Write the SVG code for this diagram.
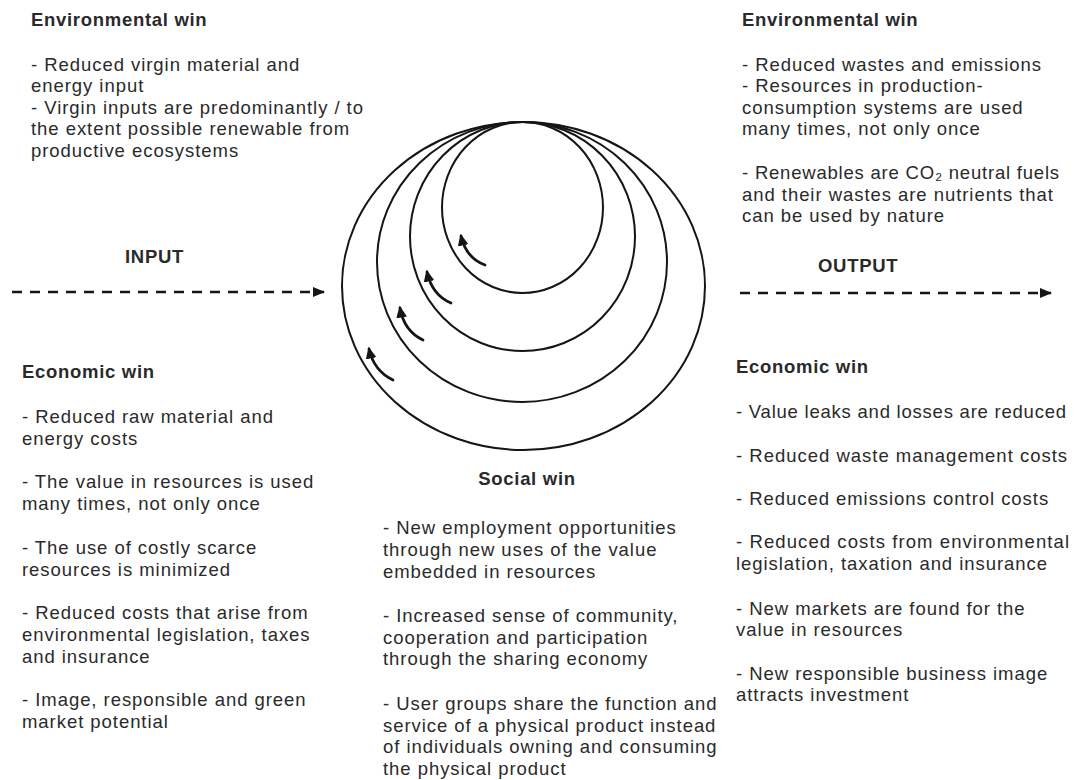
<svg xmlns="http://www.w3.org/2000/svg" width="1075" height="780" viewBox="0 0 1075 780">
  <style>
    .t { font-family: "Liberation Sans", Arial, sans-serif; font-size: 18.5px; letter-spacing: 0.95px; fill: #2a2a2a; }
    .h { font-weight: bold; letter-spacing: 0.7px; }
    .ring { fill: none; stroke: #151515; stroke-width: 2; }
    .flow { fill: none; stroke: #151515; stroke-width: 2.6; stroke-dasharray: 10 8; }
    .turn { fill: none; stroke: #151515; stroke-width: 2.8; stroke-linecap: round; }
  </style>
  <defs>
    <marker id="head" viewBox="0 0 12 10" refX="11" refY="5" markerWidth="12" markerHeight="10" markerUnits="userSpaceOnUse" orient="auto">
      <path d="M0,0 L12,5 L0,10 Z" fill="#151515"/>
    </marker>
    <marker id="small" viewBox="0 0 10 10" refX="8" refY="5" markerWidth="12" markerHeight="12" markerUnits="userSpaceOnUse" orient="auto">
      <path d="M0,0.5 L10,5 L0,9.5 Z" fill="#151515"/>
    </marker>
  </defs>
  <rect width="1075" height="780" fill="#ffffff"/>

  <!-- nested loops of value circulation -->
  <g id="loops">
    <ellipse class="ring" cx="523.5" cy="286" rx="181.5" ry="164"/>
    <ellipse class="ring" cx="522" cy="262" rx="145" ry="140"/>
    <ellipse class="ring" cx="522.5" cy="236.5" rx="112.5" ry="114.5"/>
    <ellipse class="ring" cx="522.5" cy="207.5" rx="80.5" ry="85.5"/>
  </g>

  <!-- connectors: flow arrows and circulation arrows -->
  <g id="connectors">
    <line class="flow" x1="12" y1="292" x2="324" y2="292" marker-end="url(#head)"/>
    <line class="flow" x1="740" y1="293" x2="1051" y2="293" marker-end="url(#head)"/>
    <path class="turn" d="M485,265 Q466,258 461,236" marker-end="url(#small)"/>
    <path class="turn" d="M451,303 Q432,295 427,272" marker-end="url(#small)"/>
    <path class="turn" d="M423,340 Q404,331 400,308" marker-end="url(#small)"/>
    <path class="turn" d="M393,380 Q374,371 369,349" marker-end="url(#small)"/>
  </g>

  <g id="input-label">
    <text class="t h" x="125" y="263">INPUT</text>
  </g>
  <g id="output-label">
    <text class="t h" x="818" y="272">OUTPUT</text>
  </g>

  <g id="env-input">
    <text class="t h" x="31" y="26">Environmental win</text>
    <text class="t" x="31" y="71">- Reduced virgin material and</text>
    <text class="t" x="31" y="92">energy input</text>
    <text class="t" x="31" y="113.5">- Virgin inputs are predominantly / to</text>
    <text class="t" x="31" y="135">the extent possible renewable from</text>
    <text class="t" x="31" y="156.5">productive ecosystems</text>
  </g>

  <g id="env-output">
    <text class="t h" x="742" y="26">Environmental win</text>
    <text class="t" x="742" y="71">- Reduced wastes and emissions</text>
    <text class="t" x="742" y="92">- Resources in production-</text>
    <text class="t" x="742" y="113.5">consumption systems are used</text>
    <text class="t" x="742" y="135">many times, not only once</text>
    <text class="t" x="742" y="179" textLength="318" lengthAdjust="spacing">- Renewables are CO₂ neutral fuels</text>
    <text class="t" x="742" y="200.5">and their wastes are nutrients that</text>
    <text class="t" x="742" y="222">can be used by nature</text>
  </g>

  <g id="econ-input">
    <text class="t h" x="22" y="378">Economic win</text>
    <text class="t" x="22" y="423">- Reduced raw material and</text>
    <text class="t" x="22" y="445">energy costs</text>
    <text class="t" x="22" y="488">- The value in resources is used</text>
    <text class="t" x="22" y="510">many times, not only once</text>
    <text class="t" x="22" y="554">- The use of costly scarce</text>
    <text class="t" x="22" y="575.5">resources is minimized</text>
    <text class="t" x="22" y="619">- Reduced costs that arise from</text>
    <text class="t" x="22" y="641">environmental legislation, taxes</text>
    <text class="t" x="22" y="663">and insurance</text>
    <text class="t" x="22" y="706">- Image, responsible and green</text>
    <text class="t" x="22" y="728">market potential</text>
  </g>

  <g id="social">
    <text class="t h" x="527" y="485" text-anchor="middle">Social win</text>
    <text class="t" x="383" y="534">- New employment opportunities</text>
    <text class="t" x="383" y="556">through new uses of the value</text>
    <text class="t" x="383" y="578">embedded in resources</text>
    <text class="t" x="383" y="622">- Increased sense of community,</text>
    <text class="t" x="383" y="644">cooperation and participation</text>
    <text class="t" x="383" y="665">through the sharing economy</text>
    <text class="t" x="383" y="710">- User groups share the function and</text>
    <text class="t" x="383" y="732">service of a physical product instead</text>
    <text class="t" x="383" y="753">of individuals owning and consuming</text>
    <text class="t" x="383" y="775">the physical product</text>
  </g>

  <g id="econ-output">
    <text class="t h" x="736" y="373">Economic win</text>
    <text class="t" x="736" y="418" textLength="331" lengthAdjust="spacing">- Value leaks and losses are reduced</text>
    <text class="t" x="736" y="462" textLength="332" lengthAdjust="spacing">- Reduced waste management costs</text>
    <text class="t" x="736" y="505">- Reduced emissions control costs</text>
    <text class="t" x="736" y="548" textLength="334" lengthAdjust="spacing">- Reduced costs from environmental</text>
    <text class="t" x="736" y="570">legislation, taxation and insurance</text>
    <text class="t" x="736" y="615">- New markets are found for the</text>
    <text class="t" x="736" y="636">value in resources</text>
    <text class="t" x="736" y="680">- New responsible business image</text>
    <text class="t" x="736" y="701">attracts investment</text>
  </g>
</svg>
